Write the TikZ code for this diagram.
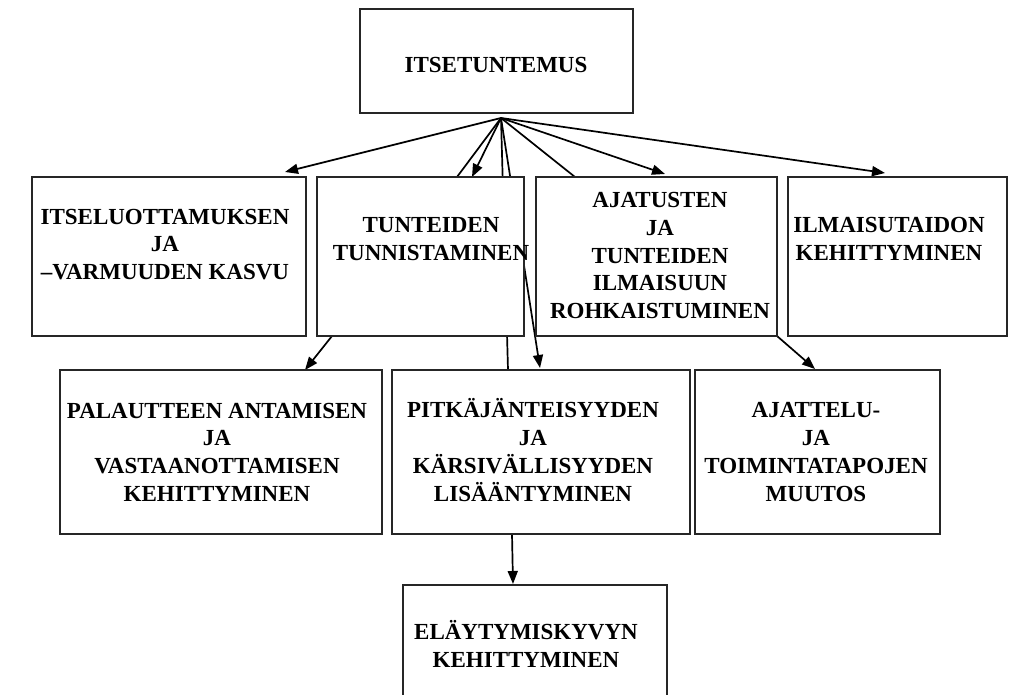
\documentclass[tikz,border=0pt]{standalone}
\usepackage{fontspec}
\setmainfont{Liberation Serif}
\usetikzlibrary{arrows.meta}
\pgfdeclarelayer{background}
\pgfsetlayers{background,main}
\begin{document}
\begin{tikzpicture}[x=1pt,y=-1pt,
  box/.style={draw=black!85, line width=1.3pt, fill=white, anchor=north west,
              inner sep=0pt, outer sep=0pt},
  txt/.style={font=\fontsize{23}{27.7}\selectfont\bfseries, align=center, inner sep=0pt},
  link/.style={line width=1.7pt, black},
  arr/.style={link, -{Triangle[length=13pt,width=10pt]}}]

\useasboundingbox (0,0) rectangle (1031,695);
\clip (0,0) rectangle (1031,695);

% boxes
\node[box, minimum width=273pt, minimum height=104pt] (top) at (360,9) {};
\node[box, minimum width=274pt, minimum height=159pt] (A) at (32,177) {};
\node[box, minimum width=207pt, minimum height=159pt] (B) at (317,177) {};
\node[box, minimum width=241pt, minimum height=159pt] (C) at (536,177) {};
\node[box, minimum width=219pt, minimum height=159pt] (D) at (788,177) {};
\node[box, minimum width=322pt, minimum height=164pt] (E) at (60,370) {};
\node[box, minimum width=298pt, minimum height=164pt] (F) at (392,370) {};
\node[box, minimum width=245pt, minimum height=164pt] (G) at (695,370) {};
\node[box, minimum width=264pt, minimum height=140pt] (H) at (403,585) {};

% box texts
\node[txt] (tTop) at (496,65) {ITSETUNTEMUS};
\node[txt] (tA) at (165,244.5) {ITSELUOTTAMUKSEN\\JA\\–VARMUUDEN KASVU};
\node[txt] (tB) at (431,239) {TUNTEIDEN\\TUNNISTAMINEN};
\node[txt] (tC) at (660,255.5) {AJATUSTEN\\JA\\TUNTEIDEN\\ILMAISUUN\\ROHKAISTUMINEN};
\node[txt] (tD) at (889,239) {ILMAISUTAIDON\\KEHITTYMINEN};
\node[txt] (tE) at (217,452) {PALAUTTEEN ANTAMISEN\\JA\\VASTAANOTTAMISEN\\KEHITTYMINEN};
\node[txt] (tF) at (533,450) {PITKÄJÄNTEISYYDEN\\JA\\KÄRSIVÄLLISYYDEN\\LISÄÄNTYMINEN};
\node[txt] (tG) at (816,452) {AJATTELU-\\JA\\TOIMINTATAPOJEN\\MUUTOS};
\node[txt] (tH) at (526,644) {ELÄYTYMISKYVYN\\KEHITTYMINEN};

% common starting point below the top box
\coordinate (hub) at ([xshift=4.5pt,yshift=-5pt]top.south);

% connectors, kept behind the boxes
\begin{pgfonlayer}{background}
  \fill[white] (0,0) rectangle (1031,695);
  \draw[arr]  (hub) -- ([xshift=253pt,yshift=5pt]A.north west);
  \draw[link] (hub) -- ([xshift=140pt]B.north west);
  \draw[arr]  (hub) -- ([xshift=155pt]B.north west);
  \draw[link] (hub) -- ([xshift=116pt]F.north west);
  \draw[arr]  (hub) -- ([xshift=148pt,yshift=2pt]F.north west);
  \draw[link] (hub) -- ([xshift=39pt]C.north west);
  \draw[arr]  (hub) -- ([xshift=129pt,yshift=3pt]C.north west);
  \draw[arr]  (hub) -- ([xshift=97pt,yshift=4pt]D.north west);
  \draw[arr]  ([xshift=15pt]B.south west) -- ([xshift=245pt]E.north west);
  \draw[arr]  (C.south east) -- ([xshift=120pt,yshift=1pt]G.north west);
  \draw[arr]  ([xshift=120pt]F.south west) -- ([xshift=110pt,yshift=1pt]H.north west);
\end{pgfonlayer}
\end{tikzpicture}
\end{document}
